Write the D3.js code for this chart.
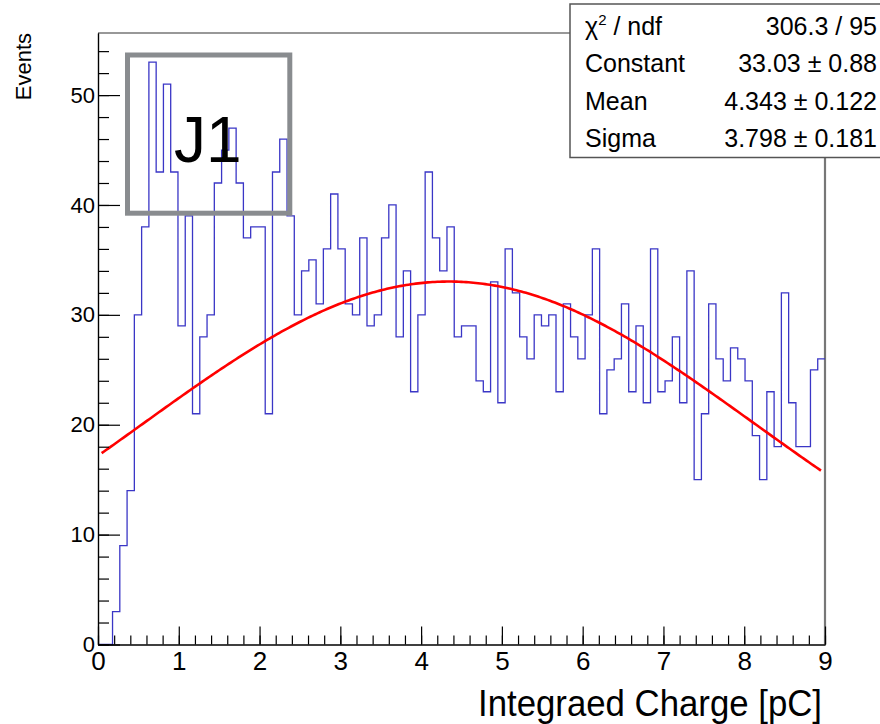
<!DOCTYPE html>
<html lang="en">
  <head>
    <meta charset="UTF-8" />
    <title>Integrated Charge</title>
    <script src="https://d3js.org/d3.v7.min.js"></script>
    <style>
      body {
        margin: 0;
        background: #fff;
      }
      svg {
        font-family: "Liberation Sans", Arial, Helvetica, sans-serif;
      }
      .axis path,
      .axis line {
        stroke: #000;
        stroke-width: 1.2px;
      }
    </style>
  </head>
  <body>
    <svg id="svg" width="880" height="724"></svg>

    <script>
      // histogram: 100 bins of 0.09 pC between 0 and 9
      const xRange = [0, 9];
      const binWidth = 0.09;
      const counts = [
        0, 0, 3, 9, 14, 30, 38, 53, 43, 51,
        43, 29, 39, 21, 28, 30, 42, 45, 47, 42,
        37, 38, 38, 21, 43, 46, 39, 30, 34, 35,
        31, 36, 41, 36, 31, 30, 37, 29, 30, 37,
        40, 28, 34, 23, 30, 43, 37, 34, 38, 28,
        29, 29, 24, 23, 33, 22, 36, 32, 28, 26,
        30, 29, 30, 23, 31, 28, 26, 30, 36, 21,
        25, 26, 31, 23, 29, 22, 36, 23, 24, 28,
        22, 34, 15, 21, 31, 26, 24, 27, 26, 24,
        19, 15, 23, 18, 32, 22, 18, 18, 25, 26
      ];

      const xTicks = [0, 1, 2, 3, 4, 5, 6, 7, 8, 9];
      const yTicks = [0, 10, 20, 30, 40, 50];

      // gaussian fit: constant, mean, sigma
      const fitParams = [33.03, 4.343, 3.798];
      const fitRange = [0.045, 8.95];

      const statLabels = ["χ2 / ndf", "Constant", "Mean", "Sigma"];
      const statValues = ["306.3 / 95", "33.03 ± 0.88", "4.343 ± 0.122", "3.798 ± 0.181"];

      const svg = d3.select("#svg");
      const frameL = 98, frameR = 825, frameT = 33, frameB = 644.5;

      const x = d3.scaleLinear().domain(xRange).range([frameL, frameR]);
      const y = d3.scaleLinear().domain([0, d3.max(counts) * 1.05]).range([frameB, frameT]);

      // frame (top / right)
      svg.append("line")
        .attr("x1", frameL).attr("x2", frameR).attr("y1", frameT).attr("y2", frameT)
        .attr("stroke", "#333").attr("stroke-width", 1.2);
      svg.append("line")
        .attr("x1", frameR).attr("x2", frameR).attr("y1", frameT).attr("y2", frameB)
        .attr("stroke", "#777").attr("stroke-width", 2.2);

      // histogram outline
      const pts = [[xRange[0], 0]];
      counts.forEach((c, i) => {
        pts.push([xRange[0] + i * binWidth, c]);
        pts.push([xRange[0] + (i + 1) * binWidth, c]);
      });
      const line = d3.line().x((d) => x(d[0])).y((d) => y(d[1]));

      svg.append("path")
        .attr("d", line(pts))
        .attr("fill", "none")
        .attr("stroke", "#3a36c6")
        .attr("stroke-width", 1.3);

      // fit curve
      const gaus = (v) =>
        fitParams[0] * Math.exp(-0.5 * Math.pow((v - fitParams[1]) / fitParams[2], 2));
      const fitPts = d3.range(0, 301).map((k) => {
        const v = fitRange[0] + (k / 300) * (fitRange[1] - fitRange[0]);
        return [v, gaus(v)];
      });
      svg.append("path")
        .attr("d", line(fitPts))
        .attr("fill", "none")
        .attr("stroke", "#ff0000")
        .attr("stroke-width", 2.6);

      // x axis, ticks pointing inward
      const xMinor = d3.range(0, 9.001, 0.2);
      svg.append("g")
        .attr("class", "axis")
        .attr("transform", `translate(0,${frameB})`)
        .call(d3.axisBottom(x).tickValues(xMinor).tickSize(-9).tickSizeOuter(0).tickFormat(""));
      svg.append("g")
        .attr("class", "axis")
        .attr("transform", `translate(0,${frameB})`)
        .call(d3.axisBottom(x).tickValues(xTicks).tickSize(-18).tickSizeOuter(0).tickPadding(7).tickFormat(d3.format("d")))
        .call((g) => g.selectAll("text").attr("font-size", 26).attr("fill", "#000"));

      // y axis
      const yMinor = d3.range(0, 55, 2);
      svg.append("g")
        .attr("class", "axis")
        .attr("transform", `translate(${frameL},0)`)
        .call(d3.axisLeft(y).tickValues(yMinor).tickSize(-11).tickSizeOuter(0).tickFormat(""));
      svg.append("g")
        .attr("class", "axis")
        .attr("transform", `translate(${frameL},0)`)
        .call(d3.axisLeft(y).tickValues(yTicks).tickSize(-22).tickSizeOuter(0).tickPadding(3).tickFormat(d3.format("d")))
        .call((g) => g.selectAll("text").attr("font-size", 22).attr("fill", "#000"));

      // axis titles
      svg.append("text")
        .attr("x", 478)
        .attr("y", 716)
        .attr("font-size", 37)
        .attr("textLength", 344)
        .attr("lengthAdjust", "spacingAndGlyphs")
        .text("Integraed Charge [pC]");

      svg.append("text")
        .attr("transform", "translate(31,33) rotate(-90)")
        .attr("text-anchor", "end")
        .attr("font-size", 22)
        .text("Events");

      // J1 label box
      svg.append("rect")
        .attr("x", 127.5).attr("y", 55)
        .attr("width", 162.3).attr("height", 158.2)
        .attr("fill", "none")
        .attr("stroke", "#898c8f")
        .attr("stroke-width", 5);
      svg.append("text")
        .attr("x", 174)
        .attr("y", 161.5)
        .attr("font-size", 64)
        .text("J1");

      // stats box
      const stats = svg.append("g");
      stats.append("rect")
        .attr("x", 570).attr("y", 4)
        .attr("width", 330).attr("height", 153.5)
        .attr("fill", "#fff")
        .attr("stroke", "#555")
        .attr("stroke-width", 1.5);

      statLabels.forEach((lab, i) => {
        const yy = 35 + i * 37.3;
        const t = stats.append("text")
          .attr("x", 585)
          .attr("y", yy)
          .attr("font-size", 25);
        if (i === 0) {
          t.append("tspan").text("χ");
          t.append("tspan").attr("font-size", 15).attr("dy", -10).text("2");
          t.append("tspan").attr("dy", 10).text(" / ndf");
        } else {
          t.text(lab);
        }
        stats.append("text")
          .attr("x", 877)
          .attr("y", yy)
          .attr("text-anchor", "end")
          .attr("font-size", 25)
          .text(statValues[i]);
      });
    </script>
  </body>
</html>
